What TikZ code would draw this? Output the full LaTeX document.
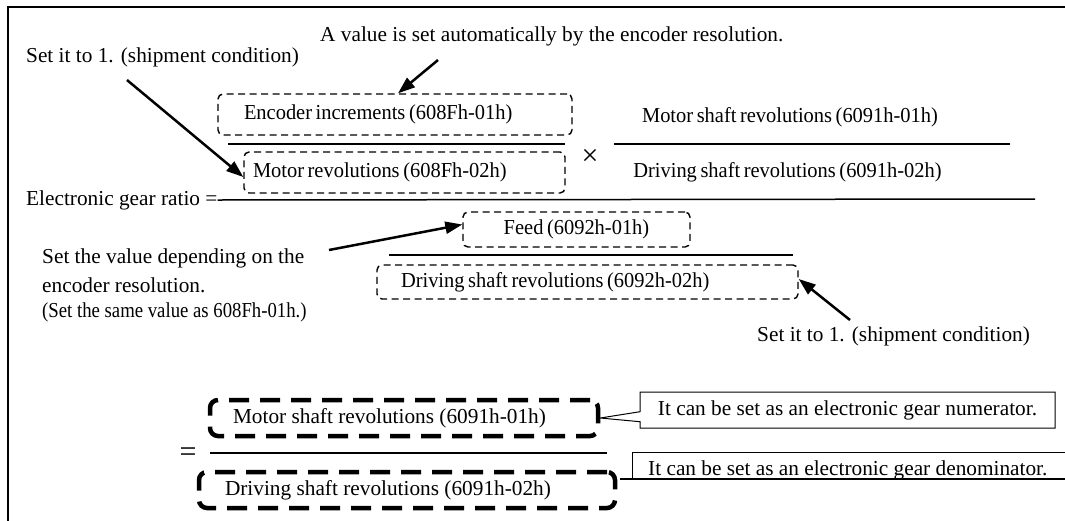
\documentclass[tikz,border=0pt]{standalone}
\usepackage{fontspec}
\setmainfont{Liberation Serif}
\newfontfamily\condfont[FakeStretch=0.96,WordSpace=0.7]{Liberation Serif}
\newfontfamily\narrowfont[FakeStretch=0.88]{Liberation Serif}
\usetikzlibrary{arrows.meta,shapes.callouts}
\tikzset{
  lbl/.style={font=\fontsize{21.3}{25}\selectfont, inner sep=0pt},
  clbl/.style={font=\condfont\fontsize{21.3}{25}\selectfont, inner sep=0pt},
  dbox/.style={draw, line width=1.4pt, dash pattern=on 7pt off 4.5pt, rounded corners=5pt,
    font=\condfont\fontsize{21.3}{25}\selectfont, inner ysep=0pt},
  tbox/.style={draw, line width=4.5pt, dash pattern=on 20pt off 11pt, rounded corners=8pt,
    font=\fontsize{21.3}{25}\selectfont, inner ysep=0pt},
  arr/.style={line width=2.5pt, -{Triangle[length=17pt,width=12pt]}},
  fracline/.style={line width=2pt},
  callbox/.style={draw, line width=1pt, fill=white, inner sep=0pt, font=\fontsize{21.3}{25}\selectfont}
}
\begin{document}
\begin{tikzpicture}[x=1pt,y=-1pt]
\useasboundingbox (0,0) rectangle (1065,520);
\clip (0,0) rectangle (1065,520);
% frame
\draw[line width=1.5pt] (8,7) rectangle (1085,540);

% top texts
\node[lbl, anchor=west] (tauto) at (320,36) {A value is set automatically by the encoder resolution.};
\node[lbl, anchor=west] (tset1) at (26,57) {Set it to 1. (shipment condition)};

% first fraction
\node[dbox, minimum width=354pt, minimum height=41pt, inner xsep=26pt]
  (enc) at (395,114.5) {\makebox[302pt][l]{Encoder increments (608Fh-01h)}};
\node[dbox, minimum width=321pt, minimum height=41pt, inner xsep=9pt]
  (mrev) at (404.5,172.5) {\makebox[303pt][l]{Motor revolutions (608Fh-02h)}};
\coordinate (f1l) at (228,144);
\coordinate (f1r) at (565,144);
\draw[fracline] (f1l) -- (f1r);

\node[inner sep=0pt, font=\fontsize{30}{30}\selectfont] (times) at (590,157) {×};

\node[clbl] (msr) at (790,117) {Motor shaft revolutions (6091h-01h)};
\node[clbl] (dsr) at (787.5,172) {Driving shaft revolutions (6091h-02h)};
\coordinate (f2l) at (614,144);
\coordinate (f2r) at (1010,144);
\draw[fracline] (f2l) -- (f2r);

% main line
\node[lbl, anchor=west] (egr) at (26,200) {Electronic gear ratio =};
\coordinate (mainr) at (1035,199);
\draw[line width=1.5pt] (egr.east) -- (mainr);

% second fraction
\node[dbox, minimum width=227pt, minimum height=35pt, align=center]
  (feed) at (576.5,229.5) {Feed (6092h-01h)};
\coordinate (f3l) at (389,255);
\coordinate (f3r) at (793,255);
\draw[fracline] (f3l) -- (f3r);
\node[dbox, minimum width=421pt, minimum height=34pt, inner xsep=24pt]
  (d92) at (587.5,282) {\makebox[373pt][l]{Driving shaft revolutions (6092h-02h)}};

% left notes
\node[lbl, anchor=west] (nset1) at (42,258) {Set the value depending on the};
\node[lbl, anchor=west] (nset2) at (42,285) {encoder resolution.};
\node[inner sep=0pt, anchor=west, font=\narrowfont\fontsize{21.3}{25}\selectfont] (nset3) at (42,312) {(Set the same value as 608Fh-01h.)};

% lower right note
\node[lbl, anchor=west] (tset2) at (757,336) {Set it to 1. (shipment condition)};

% arrows
\coordinate (a1s) at (438,60);
\draw[arr] (a1s) -- ([xshift=3pt]enc.north);
\coordinate (a2s) at (127,80);
\draw[arr] (a2s) -- ([yshift=-4.5pt]mrev.west);
\coordinate (a3s) at (329,250);
\draw[arr] (a3s) -- ([yshift=5pt]feed.west);
\coordinate (a4s) at (850,320);
\draw[arr] (a4s) -- ([yshift=3pt]d92.east);

% bottom fraction
\node[tbox, minimum width=388pt, minimum height=36pt, inner xsep=23pt]
  (mshaft) at (404,418) {\makebox[342pt][l]{Motor shaft revolutions (6091h-01h)}};
\coordinate (f4l) at (210,453);
\coordinate (f4r) at (607,453);
\draw[line width=1.5pt] (f4l) -- (f4r);
\node[inner sep=0pt, font=\fontsize{30}{30}\selectfont] (eq) at (188,455) {=};
\node[tbox, minimum width=416pt, minimum height=36pt, inner xsep=26pt]
  (dshaft) at (407,490) {\makebox[364pt][l]{Driving shaft revolutions (6091h-02h)}};

% callouts
\node[callbox, rectangle callout, minimum width=415pt, minimum height=36pt,
  callout absolute pointer={(mshaft.east)}, callout pointer width=10pt]
  (numc) at (847.5,410) {It can be set as an electronic gear numerator.};
\node[lbl, anchor=base west] (dent) at (648,475) {It can be set as an electronic gear denominator.};
\coordinate (dtl) at (632,452);
\coordinate (dtr) at (1080,452);
\coordinate (dbl) at (632,479);
\coordinate (dbr) at (1080,479);
\coordinate (dptr) at (620,479);
\draw[line width=1pt] (dbl) -- (dtl) -- (dtr);
\draw[line width=1.5pt] (dptr) -- (dbr);
\end{tikzpicture}
\end{document}
